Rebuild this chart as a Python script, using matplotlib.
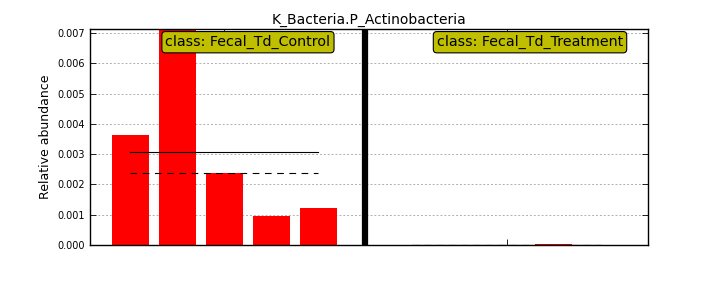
import matplotlib
matplotlib.use("Agg")
import matplotlib.pyplot as plt
import numpy as np

title = "K_Bacteria.P_Actinobacteria"
classes = ["Fecal_Td_Control", "Fecal_Td_Treatment"]
control_vals = [0.003637, 0.007125, 0.00237, 0.000969, 0.001224]
treatment_vals = [0.0, 0.0, 0.0, 0.00004, 0.0]

fig = plt.figure(figsize=(7.2, 2.88), dpi=100)
ax = fig.add_axes([0.125, 0.149, 0.775, 0.750])

groups = [control_vals, treatment_vals]
start = 0
centers = []
for gi, vals in enumerate(groups):
    xs = np.arange(start, start + len(vals))
    ax.bar(xs, vals, width=0.8, color="red", edgecolor="none", zorder=2)
    mean = np.mean(vals)
    med = np.median(vals)
    ax.plot([xs[0], xs[-1]], [mean, mean], color="black", lw=0.8, zorder=3)
    ax.plot([xs[0], xs[-1]], [med, med], color="black", lw=0.8, ls=(0, (6, 5)), zorder=3)
    centers.append(xs.mean())
    ax.text(xs[0] + 2.5, 0.972, "class: " + classes[gi], transform=ax.get_xaxis_transform(),
            ha="center", va="top", fontsize=10.3,
            bbox=dict(boxstyle="round,pad=0.25", facecolor="#bfbf00", edgecolor="black", lw=0.8),
            zorder=5)
    if gi == 0:
        ax.axvline(start + len(vals), color="black", lw=4.5, zorder=4)
    start += len(vals) + 1

ymax = max(max(v) for v in groups)
ax.set_ylim(0, ymax)
ax.set_xlim(-0.86, 11.01)
ax.set_xticks(centers)
ax.set_xticklabels([])
ax.set_yticks(np.arange(0, 0.0071, 0.001))
ax.set_yticklabels(["%.3f" % v for v in np.arange(0, 0.0071, 0.001)], fontsize=7)
ax.tick_params(direction="in", top=True, right=True, length=4, width=0.6)
ax.yaxis.grid(True, ls=(0, (2, 2)), color="#b0b0b0", lw=0.7, zorder=0)
ax.set_axisbelow(True)
ax.set_ylabel("Relative abundance", fontsize=9)
ax.set_title(title, fontsize=10, pad=4)
for s in ax.spines.values():
    s.set_linewidth(1.0)

fig.savefig("out.png", dpi=100)
